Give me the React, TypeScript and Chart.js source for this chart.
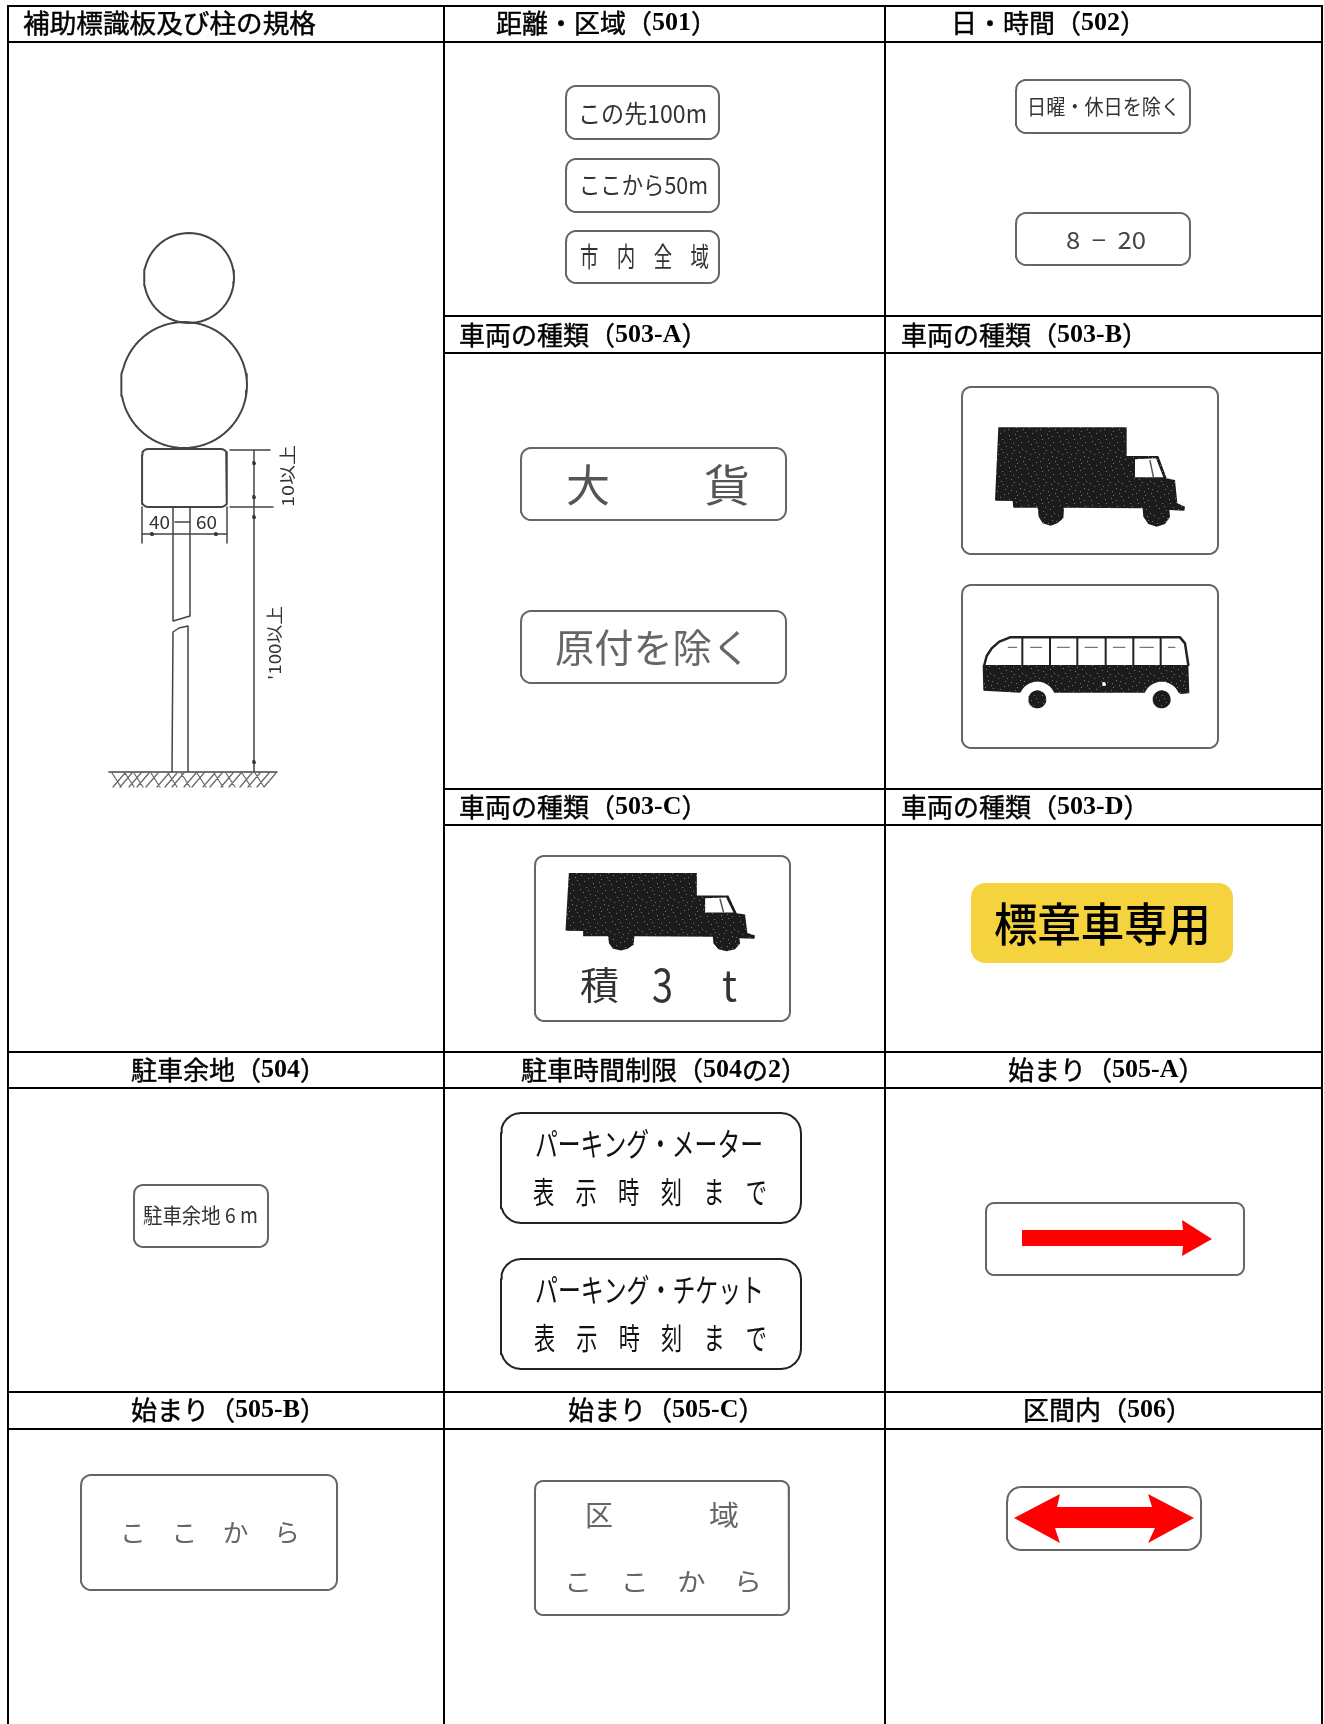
import React, { useEffect, useRef } from "react";
import { Chart, registerables } from "chart.js";

Chart.register(...registerables);

type P = [number, number];
type T = { text: string; x0: number; x1?: number; y: number; size: number; color?: string; weight?: number; rot?: number };

const W = 1324;
const H = 1724;
const LEFT = 8, COL1 = 444, COL2 = 885, RIGHT = 1322;

// table rules: [x0, x1, y]
const horizontalRules: number[][] = [
  [LEFT, RIGHT, 6], [LEFT, RIGHT, 42], [COL1, RIGHT, 316], [COL1, RIGHT, 353],
  [COL1, RIGHT, 789], [COL1, RIGHT, 825], [LEFT, RIGHT, 1052], [LEFT, RIGHT, 1088],
  [LEFT, RIGHT, 1392], [LEFT, RIGHT, 1429],
];
const verticalRules: number[] = [LEFT, COL1, COL2, RIGHT];

const headerTexts: T[] = [
  { text: "補助標識板及び柱の規格", x0: 23, x1: 316, y: 23, size: 26 },
  { text: "距離・区域（501）", x0: 496, y: 23, size: 26 },
  { text: "日・時間（502）", x0: 951, y: 23, size: 26 },
  { text: "車両の種類（503-A）", x0: 459, y: 335, size: 26 },
  { text: "車両の種類（503-B）", x0: 901, y: 335, size: 26 },
  { text: "車両の種類（503-C）", x0: 459, y: 807, size: 26 },
  { text: "車両の種類（503-D）", x0: 901, y: 807, size: 26 },
  { text: "駐車余地（504）", x0: 131, y: 1070, size: 26 },
  { text: "駐車時間制限（504の2）", x0: 521, y: 1070, size: 26 },
  { text: "始まり（505-A）", x0: 1008, y: 1070, size: 26 },
  { text: "始まり（505-B）", x0: 131, y: 1410, size: 26 },
  { text: "始まり（505-C）", x0: 568, y: 1410, size: 26 },
  { text: "区間内（506）", x0: 1023, y: 1410, size: 26 },
];

const signTexts: T[] = [
  { text: "この先100m", x0: 578, x1: 707, y: 113, size: 25, color: "#333" },
  { text: "ここから50m", x0: 579, x1: 708, y: 185, size: 24, color: "#333" },
  { text: "市　内　全　域", x0: 580, x1: 709, y: 257, size: 27, color: "#333" },
  { text: "日曜・休日を除く", x0: 1027, x1: 1180, y: 106, size: 21, color: "#333" },
  { text: "8  −  20", x0: 1066, x1: 1146, y: 240, size: 24, color: "#444" },
  { text: "大", x0: 566, x1: 610, y: 485, size: 44, color: "#555" },
  { text: "貨", x0: 704, x1: 750, y: 485, size: 44, color: "#555" },
  { text: "原付を除く", x0: 555, x1: 751, y: 647, size: 39, color: "#666" },
  { text: "積", x0: 580, x1: 619, y: 985, size: 38, color: "#333" },
  { text: "3", x0: 652, x1: 673, y: 985, size: 46, color: "#333" },
  { text: "t", x0: 722, x1: 737, y: 985, size: 42, color: "#333" },
  { text: "標章車専用", x0: 994, x1: 1211, y: 924, size: 46, color: "#000", weight: 500 },
  { text: "駐車余地 6 m", x0: 143, x1: 258, y: 1215, size: 21, color: "#333" },
  { text: "パーキング・メーター", x0: 535, x1: 763, y: 1144, size: 32, color: "#111" },
  { text: "表　示　時　刻　ま　で", x0: 533, x1: 767, y: 1192, size: 30, color: "#111" },
  { text: "パーキング・チケット", x0: 535, x1: 764, y: 1290, size: 32, color: "#111" },
  { text: "表　示　時　刻　ま　で", x0: 534, x1: 767, y: 1338, size: 30, color: "#111" },
  { text: "こ　こ　か　ら", x0: 120, x1: 300, y: 1532, size: 25, color: "#666" },
  { text: "区", x0: 585, x1: 613, y: 1515, size: 28, color: "#666" },
  { text: "域", x0: 709, x1: 739, y: 1515, size: 28, color: "#666" },
  { text: "こ　こ　か　ら", x0: 564, x1: 762, y: 1581, size: 25, color: "#666" },
  { text: "40", x0: 149, x1: 170, y: 522, size: 18, color: "#333" },
  { text: "60", x0: 196, x1: 217, y: 522, size: 18, color: "#333" },
  { text: "10以上", x0: 257, x1: 319, y: 476, size: 17, color: "#333", rot: -90 },
  { text: "'100以上", x0: 238, x1: 312, y: 643, size: 17, color: "#333", rot: -90 },
];

// signs: x0, y0, x1, y1, corner radius
const scannedSigns: number[][] = [
  [566, 86, 719, 139, 10], [566, 159, 719, 212, 10], [566, 231, 719, 283, 10],
  [1016, 80, 1190, 133, 10], [1016, 213, 1190, 265, 10],
  [521, 448, 786, 520, 10], [521, 611, 786, 683, 10],
  [962, 387, 1218, 554, 9], [962, 585, 1218, 748, 9],
  [535, 856, 790, 1021, 9], [134, 1185, 268, 1247, 9],
  [986, 1203, 1244, 1275, 8], [81, 1475, 337, 1590, 10],
  [535, 1481, 789, 1615, 8], [1007, 1487, 1201, 1550, 14],
];
const parkingSigns: number[][] = [
  [501, 1113, 801, 1223, 20], [501, 1259, 801, 1369, 20],
];
const yellowSign: number[] = [971, 883, 1233, 963, 14];

const arrowRight: P[] = [
  [1022, 1230], [1183, 1230], [1182, 1220], [1212, 1239], [1182, 1256], [1183, 1246], [1022, 1246],
];
const arrowBoth: P[] = [
  [1014, 1518], [1060, 1494], [1057, 1507], [1152, 1507], [1148, 1494], [1194, 1518],
  [1148, 1543], [1155, 1528], [1055, 1528], [1060, 1543],
];

// vehicle silhouettes, in their own drawing units
const truckOutline: P[] = [
  [175, 172], [560, 172], [560, 258], [655, 258], [680, 325], [705, 330], [712, 400], [735, 410],
  [733, 422], [688, 420], [690, 440], [675, 462], [650, 470], [625, 462], [610, 440], [608, 415],
  [372, 413], [370, 445], [352, 460], [332, 467], [308, 460], [296, 440], [293, 413], [220, 413],
  [218, 393], [165, 392],
];
const truckWindow: P[] = [[585, 268], [648, 265], [670, 322], [585, 322]];
const truckPillar: P[] = [[630, 272], [640, 320]];

const busFrontArch: number[] = [292, 990, 55];
const busRearArch: number[] = [665, 990, 55];
const busBody: P[] = [[128, 885], [745, 885], [748, 970], [722, 972]];
const busBodyEnd: P[] = [[130, 962]];
const busRoof: P[] = [
  [133, 885], [140, 858], [155, 835], [178, 815], [210, 802], [720, 802], [735, 820], [745, 885],
];
const busPillars: number[] = [247, 330, 412, 497, 580, 662];
const busVents: number[][] = [[205, 230], [272, 305], [352, 388], [435, 472], [520, 555], [600, 640], [685, 705]];
const busWheels: P[] = [[292, 988], [665, 988]];

// post drawing
const postCircles: number[][] = [[189, 278, 45], [184, 385, 63]];
const postPlate: number[] = [142, 449, 227, 507, 6];
const postLines: P[][] = [
  [[173, 507], [173, 621], [180, 619], [190, 616], [190, 507]],
  [[172, 772], [173, 632], [179, 628], [188, 626], [188, 772]],
  [[109, 772], [277, 772]],
  [[254, 450], [254, 772]],
  [[230, 450], [270, 450]],
  [[230, 507], [273, 507]],
  [[142, 534], [227, 534]],
  [[142, 507], [142, 543]],
  [[227, 507], [227, 543]],
  [[175, 522], [189, 522]],
];
const groundHatchForward: number[] = [113, 120, 129, 137, 146, 157, 165, 172, 184, 192, 203, 210, 221, 229, 240, 248, 257, 264];
const groundHatchBack: number[] = [112, 125, 134, 151, 168, 181, 197, 214, 226, 242, 255];
const dimensionTicks: P[] = [[152, 534], [216, 534], [254, 463], [254, 497], [254, 517], [254, 762]];

const SPECKS: P[] = [
  [2, 3], [9, 1], [15, 6], [22, 2], [28, 8], [5, 11], [12, 14], [19, 10], [25, 15], [31, 13],
  [3, 20], [10, 23], [17, 19], [24, 22], [29, 26], [7, 28], [14, 30], [21, 27], [1, 16], [27, 4],
  [6, 6], [13, 9], [20, 5], [30, 1], [8, 17], [16, 13], [23, 18], [4, 25], [12, 26], [19, 31],
  [26, 29], [0, 9], [18, 23], [28, 20], [11, 4], [24, 11],
];

const closed = (ps: P[]): P[] => [...ps, ps[0]];

function arc(cx: number, cy: number, rx: number, ry: number, a0: number, a1: number, n: number): P[] {
  const out: P[] = [];
  for (let i = 0; i <= n; i++) {
    const a = a0 + ((a1 - a0) * i) / n;
    out.push([cx + rx * Math.cos(a), cy + ry * Math.sin(a)]);
  }
  return out;
}
const circle = (cx: number, cy: number, r: number, ry = r): P[] => arc(cx, cy, r, ry, 0, Math.PI * 2, 72);

function roundRect([x0, y0, x1, y1, r]: number[]): P[] {
  const q = Math.PI / 2;
  return closed([
    ...arc(x0 + r, y0 + r, r, r, 2 * q, 3 * q, 6),
    ...arc(x1 - r, y0 + r, r, r, 3 * q, 4 * q, 6),
    ...arc(x1 - r, y1 - r, r, r, 0, q, 6),
    ...arc(x0 + r, y1 - r, r, r, q, 2 * q, 6),
  ]);
}

const toXY = (ps: P[]) => ps.map(([x, y]) => ({ x, y }));
const gapJoin = (paths: P[][]) => {
  const out: { x: number; y: number }[] = [];
  paths.forEach((p, i) => {
    if (i) out.push({ x: NaN, y: NaN });
    out.push(...toXY(p));
  });
  return out;
};
const stroke = (paths: P[][], color: string, width: number) => ({
  data: gapJoin(paths), borderColor: color, borderWidth: width, fill: false, pointRadius: 0, tension: 0,
  borderCapStyle: "round", borderJoinStyle: "round", spanGaps: false,
});
const solid = (ps: P[], color: any) => ({
  data: toXY(closed(ps)), borderColor: "rgba(0,0,0,0)", borderWidth: 0, fill: "shape", backgroundColor: color,
  pointRadius: 0, tension: 0,
});

function makeSpeckle(): any {
  const c = document.createElement("canvas");
  c.width = c.height = 32;
  const g = c.getContext("2d")!;
  g.fillStyle = "#1c1c1c";
  g.fillRect(0, 0, 32, 32);
  g.fillStyle = "#777";
  SPECKS.forEach(([x, y]) => g.fillRect(x, y, 1, 1));
  return g.createPattern(c, "repeat");
}

function buildDatasets(speckle: any) {
  const list: any[] = [];
  const truckA = (p: P): P => [940 + p[0] / 3, 370 + p[1] / 3];
  const truckC = (p: P): P => [565.5 + (p[0] - 165) * 0.3325, 873 + (p[1] - 172) * 0.2628];

  // table
  list.push(stroke(horizontalRules.map(([a, b, y]) => [[a, y], [b, y]] as P[]), "#000", 2));
  list.push(stroke(verticalRules.map((x) => [[x, 6], [x, H]] as P[]), "#000", 2));

  // post
  postCircles.forEach(([x, y, r]) => list.push(stroke([circle(x, y, r)], "#444", 2)));
  list.push(stroke([roundRect(postPlate)], "#444", 2));
  list.push(stroke(postLines, "#444", 1.5));
  list.push(stroke([
    ...groundHatchForward.map((x) => [[x + 12, 773], [x, 787]] as P[]),
    ...groundHatchBack.map((x) => [[x, 773], [x + 9, 787]] as P[]),
  ], "#666", 1.2));
  dimensionTicks.forEach(([x, y]) => list.push(solid(circle(x, y, 2), "#333")));

  // signs
  scannedSigns.forEach((s) => list.push(stroke([roundRect(s)], "#666", 2)));
  parkingSigns.forEach((s) => list.push(stroke([roundRect(s)], "#222", 2)));
  list.push(solid(roundRect(yellowSign), "#F5D33F"));
  list.push(solid(arrowRight, "#FF0000"));
  list.push(solid(arrowBoth, "#FF0000"));

  // trucks
  [truckA, truckC].forEach((t) => {
    list.push(solid(truckOutline.map(t), speckle));
    list.push(solid(truckWindow.map(t), "#fff"));
    list.push(stroke([truckPillar.map(t)], "#555", 1.5));
  });

  // bus
  const b = truckA;
  const archRear = arc(busRearArch[0], busRearArch[1], busRearArch[2], busRearArch[2], -0.4, -Math.PI + 0.4, 16);
  const archFront = arc(busFrontArch[0], busFrontArch[1], busFrontArch[2], busFrontArch[2], -0.4, -Math.PI + 0.4, 16);
  list.push(solid([...busBody, ...archRear, ...archFront, ...busBodyEnd].map(b), speckle));
  list.push(stroke([busRoof.map(b)], "#222", 2.5));
  list.push(stroke(busPillars.map((x) => [[x, 805], [x, 885]].map((p) => b(p as P))), "#222", 2));
  list.push(stroke(busVents.map(([a, c]) => [[a, 832], [c, 832]].map((p) => b(p as P))), "#777", 1.2));
  busWheels.forEach(([x, y]) => {
    const [cx, cy] = b([x, y]);
    list.push(solid(circle(cx, cy, 9), speckle));
  });
  const [dx, dy] = b([492, 942]);
  list.push(solid(circle(dx, dy, 2), "#fff"));

  // Chart.js paints the lowest dataset index last
  return list.reverse();
}

function drawItem(ctx: CanvasRenderingContext2D, chart: any, t: T, header: boolean) {
  const sx = chart.scales.x, sy = chart.scales.y;
  const cjk = `${t.weight || 400} ${t.size}px "Noto Sans CJK JP"`;
  const latin = header ? `bold ${t.size}px "Liberation Serif"` : cjk;
  const runs = t.text.match(/[\x20-\x7E]+|[^\x20-\x7E]+/g) || [];
  const isLatin = (r: string) => /^[\x20-\x7E]/.test(r);
  const fontOf = (r: string) => (isLatin(r) ? latin : cjk);
  let total = 0;
  runs.forEach((r) => { ctx.font = fontOf(r); total += ctx.measureText(r).width; });
  const px0 = sx.getPixelForValue(t.x0);
  const px1 = t.x1 === undefined ? px0 + total : sx.getPixelForValue(t.x1);
  const py = sy.getPixelForValue(t.y);
  ctx.save();
  ctx.translate((px0 + px1) / 2, py);
  if (t.rot) ctx.rotate((t.rot * Math.PI) / 180);
  ctx.scale((px1 - px0) / total, 1);
  ctx.textBaseline = "middle";
  ctx.textAlign = "left";
  ctx.fillStyle = t.color || "#000";
  ctx.strokeStyle = t.color || "#000";
  ctx.lineWidth = 0.45;
  let x = -total / 2;
  runs.forEach((r) => {
    ctx.font = fontOf(r);
    ctx.fillText(r, x, 0);
    if (header && !isLatin(r)) ctx.strokeText(r, x, 0);
    x += ctx.measureText(r).width;
  });
  ctx.restore();
}

const textPlugin = {
  id: "tableText",
  afterDatasetsDraw(chart: any) {
    const ctx = chart.ctx;
    headerTexts.forEach((t) => drawItem(ctx, chart, t, true));
    signTexts.forEach((t) => drawItem(ctx, chart, t, false));
  },
};

export default function App() {
  const ref = useRef<HTMLCanvasElement>(null);
  useEffect(() => {
    const chart = new Chart(ref.current!, {
      type: "line",
      data: { datasets: buildDatasets(makeSpeckle()) },
      plugins: [textPlugin],
      options: {
        animation: false,
        responsive: false,
        events: [],
        layout: { padding: 0 },
        plugins: { legend: { display: false }, tooltip: { enabled: false }, title: { display: false } },
        scales: {
          x: { type: "linear", min: 0, max: W, display: false },
          y: { type: "linear", min: 0, max: H, reverse: true, display: false },
        },
      },
    } as any);
    return () => chart.destroy();
  }, []);
  return (
    <canvas
      ref={ref}
      width={W}
      height={H}
      style={{ position: "absolute", left: 0, top: 0, width: W, height: H, display: "block", background: "#fff" }}
    />
  );
}
